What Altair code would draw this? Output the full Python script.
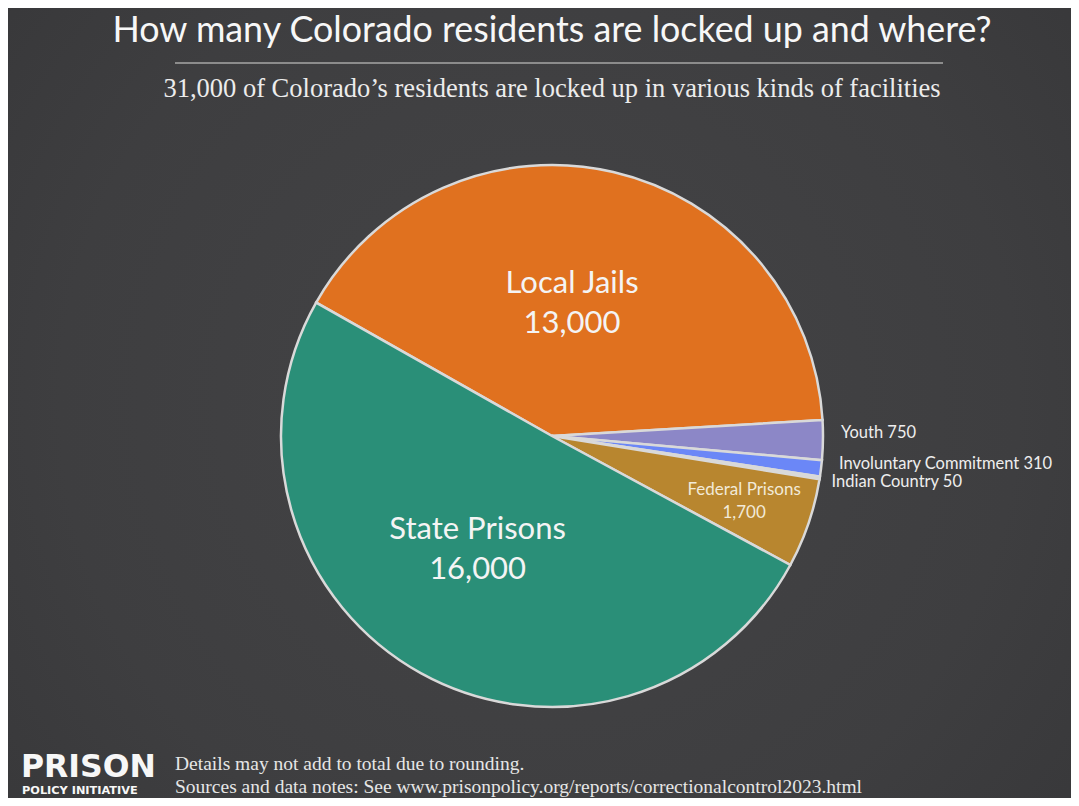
import math
import altair as alt
import pandas as pd

# ---- data ----
categories = ["Local Jails", "Youth", "Involuntary Commitment", "Indian Country", "Federal Prisons", "State Prisons"]
values = [13000, 750, 310, 50, 1700, 16000]
value_labels = ["13,000", "750", "310", "50", "1,700", "16,000"]
colors = ["#E0711F", "#8C87C7", "#6B87F7", "#C9CFEA", "#B8862F", "#2A8F78"]

title_text = "How many Colorado residents are locked up and where?"
subtitle_text = "31,000 of Colorado\u2019s residents are locked up in various kinds of facilities"
footer_lines = ["Details may not add to total due to rounding.",
                "Sources and data notes: See www.prisonpolicy.org/reports/correctionalcontrol2023.html"]
logo_lines = ["PRISON", "POLICY INITIATIVE"]

big_group = ["Local Jails", "State Prisons"]
mid_group = ["Federal Prisons"]
outer_group = ["Youth", "Involuntary Commitment"]
edge_group = ["Indian Country"]

df = pd.DataFrame({
    "cat": categories,
    "value": values,
    "vlabel": value_labels,
    "ord": list(range(len(categories))),
})

W, H = 1063, 790
CX, CY = 544, 428
R = 271
start = math.radians(299.5)

theta = alt.Theta("value:Q", stack=True, scale=alt.Scale(range=[start, start + 2 * math.pi]))
color = alt.Color("cat:N", scale=alt.Scale(domain=categories, range=colors), legend=None)
order = alt.Order("ord:Q", sort="ascending")

base = alt.Chart(df)

# background with subtle vignette
bg = alt.Chart(pd.DataFrame({"a": [0]})).mark_rect(
    fill=alt.Gradient(
        gradient="radial",
        stops=[alt.GradientStop(color="#444446", offset=0),
               alt.GradientStop(color="#3e3e40", offset=0.6),
               alt.GradientStop(color="#353537", offset=1)],
        x1=0.5, y1=0.5, r1=0, x2=0.5, y2=0.5, r2=0.75,
    )
).encode(x=alt.value(0), x2=alt.value(W), y=alt.value(0), y2=alt.value(H))

pie = base.mark_arc(outerRadius=R, stroke="#d9d9d9", strokeWidth=2.5).encode(
    theta=theta, color=color, order=order,
    x=alt.value(CX), y=alt.value(CY),
)


def label_layer(group, radius, size, line_height, fill, align="center", dy=0, two_lines=True, dx=0):
    lst = "[" + ",".join("'" + g + "'" for g in group) + "]"
    if two_lines:
        expr = f"indexof({lst}, datum.cat) >= 0 ? datum.cat + '\\n' + datum.vlabel : ''"
    else:
        expr = f"indexof({lst}, datum.cat) >= 0 ? datum.cat + ' ' + datum.vlabel : ''"
    return base.transform_calculate(t=expr).mark_text(
        radius=radius, fontSize=size, font="Lato", fill=fill, align=align,
        baseline="middle", lineBreak="\n", lineHeight=line_height, dy=dy, dx=dx,
    ).encode(theta=theta, order=order, text="t:N", x=alt.value(CX), y=alt.value(CY))


lab_big = label_layer(big_group, 133, 31, 40, "#f4f4f4", dy=-22, dx=-10)
lab_mid = label_layer(mid_group, 204, 17, 23, "#f2ead8", dy=-12, dx=-1)
lab_out = label_layer(outer_group, 289, 16.5, 16, "#eeeeee", align="left", dy=-7, two_lines=False)
lab_edge = label_layer(edge_group, 283, 16.5, 16, "#eeeeee", align="left", dy=2, two_lines=False)


def txt(s, x, y, size, font, fill="#f2f2f2", align="center", weight="normal", baseline="alphabetic"):
    return alt.Chart(pd.DataFrame({"t": [s]})).mark_text(
        fontSize=size, font=font, fill=fill, align=align, fontWeight=weight, baseline=baseline,
    ).encode(text="t:N", x=alt.value(x), y=alt.value(y))


title = txt(title_text, 544, 34, 35.8, "Lato", fill="#f7f7f7")
rule = alt.Chart(pd.DataFrame({"a": [0]})).mark_rule(color="#8c8c8c", strokeWidth=2).encode(
    x=alt.value(167), x2=alt.value(935), y=alt.value(55))
subtitle = txt(subtitle_text, 544, 89, 26.5, "Liberation Serif", fill="#ececec")

logo1 = txt(logo_lines[0], 13, 769, 31.5, "DejaVu Sans", fill="#f7f7f7", align="left", weight="bold")
logo2 = txt(logo_lines[1], 14, 786, 11.3, "DejaVu Sans", fill="#f7f7f7", align="left", weight="bold")
foot1 = txt(footer_lines[0], 167, 762, 19.5, "Liberation Serif", fill="#e6e6e6", align="left")
foot2 = txt(footer_lines[1], 167, 785, 19.5, "Liberation Serif", fill="#e6e6e6", align="left")

chart = alt.layer(
    bg, pie, lab_big, lab_mid, lab_out, lab_edge,
    title, rule, subtitle, logo1, logo2, foot1, foot2,
).properties(
    width=W, height=H, autosize="none", padding=0, background="#3c3c3e",
).configure_view(stroke=None)

chart.save("out.html", embed_options={"renderer": "svg", "actions": False})
